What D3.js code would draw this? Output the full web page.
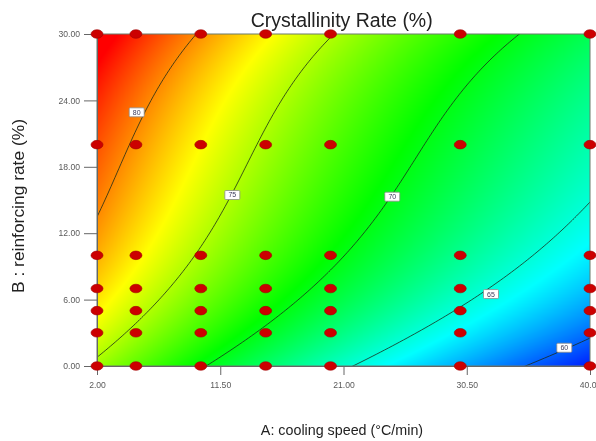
<!DOCTYPE html>
<html>
<head>
<meta charset="utf-8">
<script src="https://cdn.jsdelivr.net/npm/d3@7"></script>
<style>
  body { margin: 0; background: #fff; }
  #wrap { position: relative; width: 596px; height: 441px; overflow: hidden; }
  #wrap canvas, #wrap svg { position: absolute; left: 0; top: 0; }
  text { font-family: "Liberation Sans", Arial, sans-serif; }
</style>
</head>
<body>
<div id="wrap">
  <canvas id="heat" width="596" height="441"></canvas>
  <svg id="chart" width="596" height="441"></svg>
</div>
<script>
// Design points: cooling speed (A) and reinforcing rate (B) levels
const speedLevels = [2, 5, 10, 15, 20, 30, 40];
const reinforceLevels = [0, 3, 5, 7, 10, 20, 30];

// Crystallinity rate (%) at each design point, one row per reinforcing level
const crystallinity = [
  [74.7, 72.9, 70.0, 67.7, 65.5, 61.7, 58.4],  // B = 0
  [75.8, 74.7, 72.2, 69.8, 67.6, 63.7, 60.4],  // B = 3
  [76.9, 75.5, 73.2, 71.0, 68.9, 64.9, 61.3],  // B = 5
  [77.9, 76.2, 73.9, 71.6, 69.5, 65.8, 62.2],  // B = 7
  [79.5, 77.3, 74.8, 72.3, 70.0, 66.6, 63.6],  // B = 10
  [82.0, 79.5, 76.8, 74.2, 72.7, 69.2, 66.5],  // B = 20
  [84.5, 82.5, 80.0, 77.5, 75.0, 71.7, 68.1]   // B = 30
];

// Axis ticks
const xTicks = [2, 11.5, 21, 30.5, 40];
const yTicks = [0, 6, 12, 18, 24, 30];

// Contour levels and where each level's tag sits (A, B)
const contourLevels = [60, 65, 70, 75, 80];
const contourTagA = [38.02, 32.37, 24.76, 12.43, 5.06];
const contourTagB = [1.65, 6.5, 15.3, 15.45, 22.92];

// Colour ramp for the response surface (low -> high)
const colorDomain = [57.5, 83.5];
const colorStops = ["#0000ff", "#00ffff", "#00ff00", "#ffff00", "#ff0000"];

const x = d3.scaleLinear().domain([2, 40]).range([97, 590]);
const y = d3.scaleLinear().domain([0, 30]).range([366, 34]);

// ---- cubic response-surface fit (least squares) ----
function terms(A, B) {
  const a = (A - 21) / 19, b = (B - 15) / 15;
  return [1, a, b, a * b, a * a, b * b, a * a * b, a * b * b, a * a * a, b * b * b];
}
const design = [], resp = [];
reinforceLevels.forEach((B, i) => speedLevels.forEach((A, j) => {
  design.push(terms(A, B)); resp.push(crystallinity[i][j]);
}));
const nT = 10;
const M = Array.from({length: nT}, () => new Array(nT + 1).fill(0));
design.forEach((r, k) => {
  for (let p = 0; p < nT; p++) {
    for (let q = 0; q < nT; q++) M[p][q] += r[p] * r[q];
    M[p][nT] += r[p] * resp[k];
  }
});
for (let c = 0; c < nT; c++) {
  let piv = c;
  for (let r = c + 1; r < nT; r++) if (Math.abs(M[r][c]) > Math.abs(M[piv][c])) piv = r;
  [M[c], M[piv]] = [M[piv], M[c]];
  for (let r = 0; r < nT; r++) {
    if (r === c) continue;
    const f = M[r][c] / M[c][c];
    for (let k = c; k <= nT; k++) M[r][k] -= f * M[c][k];
  }
}
const coef = M.map((row, i) => row[nT] / row[i]);
const model = (A, B) => terms(A, B).reduce((s, t, i) => s + t * coef[i], 0);

// ---- colour field ----
const cStep = (colorDomain[1] - colorDomain[0]) / (colorStops.length - 1);
const color = d3.scaleLinear()
  .domain(colorStops.map((_, i) => colorDomain[0] + i * cStep))
  .range(colorStops)
  .interpolate(d3.interpolateRgb)
  .clamp(true);

const [px0, px1] = x.range();
const [py1, py0] = y.range();
const ctx = document.getElementById("heat").getContext("2d");
const w = Math.round(px1 - px0), h = Math.round(py1 - py0);
const img = ctx.createImageData(w, h);
for (let j = 0; j < h; j++) {
  const B = y.invert(py0 + j + 0.5);
  for (let i = 0; i < w; i++) {
    const A = x.invert(px0 + i + 0.5);
    const c = d3.rgb(color(model(A, B)));
    const o = (j * w + i) * 4;
    img.data[o] = c.r; img.data[o + 1] = c.g; img.data[o + 2] = c.b; img.data[o + 3] = 255;
  }
}
ctx.putImageData(img, px0, py0);

// ---- svg overlay ----
const svg = d3.select("#chart");

svg.append("clipPath").attr("id", "plotClip")
  .append("rect").attr("x", px0).attr("y", py0).attr("width", w).attr("height", h);

// contour lines, sampled on a grid slightly larger than the plot
const step = 2, gx0 = px0 - 6, gy0 = py0 - 6;
const nx = Math.ceil((w + 12) / step) + 1, ny = Math.ceil((h + 12) / step) + 1;
const grid = new Float64Array(nx * ny);
for (let j = 0; j < ny; j++)
  for (let i = 0; i < nx; i++)
    grid[j * nx + i] = model(x.invert(gx0 + i * step), y.invert(gy0 + j * step));
const toPx = d3.geoTransform({
  point(cx, cy) { this.stream.point(gx0 + (cx - 0.5) * step, gy0 + (cy - 0.5) * step); }
});
const contourPath = d3.geoPath(toPx);
svg.append("g").attr("clip-path", "url(#plotClip)")
  .selectAll("path")
  .data(d3.contours().size([nx, ny]).thresholds(contourLevels)(grid))
  .join("path")
  .attr("d", contourPath)
  .attr("fill", "none")
  .attr("stroke", "#1a2a1a")
  .attr("stroke-opacity", 0.78)
  .attr("stroke-width", 1);

// frame
svg.append("rect").attr("x", px0).attr("y", py0).attr("width", w).attr("height", h)
  .attr("fill", "none").attr("stroke", "#6a7a6a").attr("stroke-width", 1);

// axes
const fmt = d3.format(".2f");
const yAxis = svg.append("g").attr("transform", `translate(${px0},0)`)
  .call(d3.axisLeft(y).tickValues(yTicks).tickFormat(fmt).tickSizeInner(13).tickSizeOuter(0).tickPadding(4));
const xAxis = svg.append("g").attr("transform", `translate(0,${py1})`)
  .call(d3.axisBottom(x).tickValues(xTicks).tickFormat(fmt).tickSizeInner(9).tickSizeOuter(0).tickPadding(7));
[yAxis, xAxis].forEach(g => {
  g.select(".domain").attr("stroke", "#666");
  g.selectAll(".tick line").attr("stroke", "#666");
  g.selectAll(".tick text").attr("fill", "#5a5a5a").attr("font-size", 8.6)
    .attr("font-family", "'Liberation Sans', Arial, sans-serif");
});

// contour tags
const tags = svg.append("g").selectAll("g").data(contourLevels).join("g")
  .attr("transform", (d, i) => `translate(${x(contourTagA[i])},${y(contourTagB[i])})`);
tags.append("rect").attr("x", -7.5).attr("y", -4.5).attr("width", 15).attr("height", 9)
  .attr("rx", 1).attr("fill", "#fff").attr("stroke", "#8a8a8a").attr("stroke-width", 0.8);
tags.append("text").attr("text-anchor", "middle").attr("dy", "0.35em")
  .attr("font-size", 7).attr("fill", "#3a3a5a").text(d => d);

// design points
const pts = [];
reinforceLevels.forEach(B => speedLevels.forEach(A => pts.push([A, B])));
svg.append("g").selectAll("ellipse").data(pts).join("ellipse")
  .attr("cx", d => x(d[0])).attr("cy", d => y(d[1]))
  .attr("rx", 6).attr("ry", 4.3)
  .attr("fill", "#cc0000").attr("stroke", "#a00000").attr("stroke-width", 0.6);

// titles
svg.append("text").attr("x", 341.7).attr("y", 27).attr("text-anchor", "middle")
  .attr("font-size", 19.5).attr("fill", "#222").text("Crystallinity Rate (%)");
svg.append("text").attr("x", 342).attr("y", 435).attr("text-anchor", "middle")
  .attr("font-size", 14.3).attr("fill", "#222").text("A: cooling speed (°C/min)");
svg.append("text").attr("transform", "translate(24,206) rotate(-90)").attr("text-anchor", "middle")
  .attr("font-size", 17.4).attr("fill", "#222").text("B : reinforcing rate (%)");
</script>
</body>
</html>
